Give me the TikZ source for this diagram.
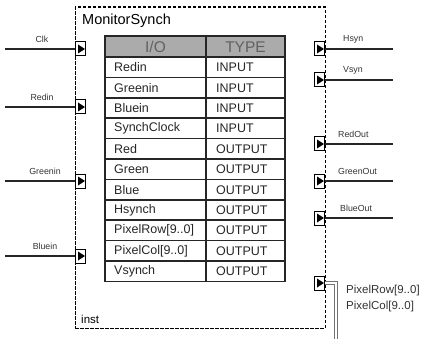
\documentclass[tikz,border=0pt]{standalone}
\usepackage{fontspec}
\setmainfont{Liberation Sans}
\begin{document}
\begin{tikzpicture}[x=1pt,y=-1pt,
  wire/.style={line width=1.9pt,black!85},
  portbox/.style={draw,line width=1pt,minimum width=10pt,minimum height=14pt,inner sep=0pt,fill=white},
  sig/.style={font=\fontsize{8.8}{10}\selectfont,text=black!80,inner sep=0pt},
  cell/.style={font=\fontsize{12.5}{14}\selectfont,text=black!85,inner sep=0pt,anchor=west},
  hdr/.style={font=\fontsize{15.5}{17}\selectfont,text=black!62,inner sep=0pt},
  tline/.style={line width=1.6pt,black!85}]
\useasboundingbox (0,0) rectangle (433,339);
% outer dashed instance box
\node (box) [draw,dashed,dash pattern=on 3.5pt off 1.5pt,line width=1.4pt,minimum width=250pt,minimum height=321pt,inner sep=0pt,anchor=north west] at (74.5,6.5) {};
\node (title) [font=\fontsize{14.5}{16}\selectfont,anchor=west,inner sep=0pt] at (82,21) {MonitorSynch};
\node (inst) [font=\fontsize{11.5}{13}\selectfont,anchor=west,inner sep=0pt] at (81,319) {inst};
% table
\fill[black!33] (105,36) rectangle (285,57);
\node (h1) [hdr] at (155.5,47) {I/O};
\node (h2) [hdr] at (245.5,47) {TYPE};
\foreach \n/\t [count=\i from 0] in {Redin/INPUT,Greenin/INPUT,Bluein/INPUT,SynchClock/INPUT,Red/OUTPUT,Green/OUTPUT,Blue/OUTPUT,Hsynch/OUTPUT,PixelRow[9..0]/OUTPUT,PixelCol[9..0]/OUTPUT,Vsynch/OUTPUT}{
  \pgfmathsetmacro{\yy}{57+20.4*\i+10.4}
  \node (n\i) [cell] at (114,\yy) {\n};
  \node (t\i) [cell] at (216,\yy) {\t};
  \draw[tline] (105,57+20.4*\i) -- (285,57+20.4*\i);
}
\draw[tline] (105,36) rectangle (285,281.4);
\draw[tline] (206,36) -- (206,281.4);
% input ports
\foreach \nm/\lab/\y/\lx in {clk/Clk/49/42,redin/Redin/107/42,greenin/Greenin/181/45,bluein/Bluein/256/45}{
  \node (p\nm) [portbox] at (80.5,\y) {};
  \fill ([xshift=3pt,yshift=4.5pt]p\nm.west) -- ([xshift=3pt,yshift=-4.5pt]p\nm.west) -- ([xshift=-1pt]p\nm.east) -- cycle;
  \coordinate (e\nm) at (5,\y);
  \draw[wire] (e\nm) -- (p\nm.west);
  \node (l\nm) [sig] at (\lx,\y-10) {\lab};
}
% output ports
\foreach \nm/\lab/\y/\lx in {hsyn/Hsyn/49/343,vsyn/Vsyn/80/343,redout/RedOut/144/338,greenout/GreenOut/181/338,blueout/BlueOut/218/340}{
  \node (p\nm) [portbox] at (319.5,\y) {};
  \fill ([xshift=3pt,yshift=4.5pt]p\nm.west) -- ([xshift=3pt,yshift=-4.5pt]p\nm.west) -- ([xshift=-1pt]p\nm.east) -- cycle;
  \coordinate (e\nm) at (393,\y);
  \draw[wire] (p\nm.east) -- (e\nm);
  \node (l\nm) [sig,anchor=west] at (\lx,\y-10) {\lab};
}
% bus port
\node (pbus) [portbox] at (319.5,283) {};
\fill ([xshift=3pt,yshift=4.5pt]pbus.west) -- ([xshift=3pt,yshift=-4.5pt]pbus.west) -- ([xshift=-1pt]pbus.east) -- cycle;
\coordinate (ebus) at (336,340);
\draw[black!55,line width=0.8pt,double=white,double distance=2.4pt] (pbus.east) -| (ebus);
\node (lbus1) [font=\fontsize{11.5}{13}\selectfont,text=black!80,anchor=west,inner sep=0pt] at (346,291) {PixelRow[9..0]};
\node (lbus2) [font=\fontsize{11.5}{13}\selectfont,text=black!80,anchor=west,inner sep=0pt] at (346,307) {PixelCol[9..0]};
\end{tikzpicture}
\end{document}
